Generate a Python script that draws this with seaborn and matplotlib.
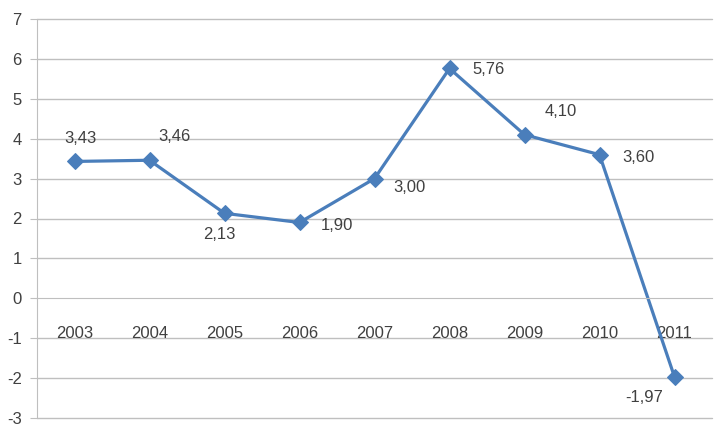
import matplotlib
matplotlib.use("Agg")
import matplotlib.pyplot as plt
import seaborn as sns
import pandas as pd

# values
years = ["2003", "2004", "2005", "2006", "2007", "2008", "2009", "2010", "2011"]
values = [3.43, 3.46, 2.13, 1.90, 3.00, 5.76, 4.10, 3.60, -1.97]
labels = ["3,43", "3,46", "2,13", "1,90", "3,00", "5,76", "4,10", "3,60", "-1,97"]

# label offsets in pixels (dx, dy) relative to each point
offsets = [(6, 23), (25, 24), (-5, -21), (37, -3), (35, -9),
           (39, -1), (36, 23), (39, -3), (-30, -21)]

sns.set_style("white")
plt.rcParams['font.family'] = ['Liberation Sans', 'DejaVu Sans']
plt.rcParams['axes.unicode_minus'] = False

text_col = "#404040"
grid_col = "#BFBFBF"
line_col = "#4A7EBB"

df = pd.DataFrame({"year": years, "value": values})

fig = plt.figure(figsize=(7.21, 4.28), dpi=100)
ax = fig.add_axes([37 / 721, 1 - 418 / 428, (712 - 37) / 721, (418 - 19) / 428])

sns.lineplot(data=df, x="year", y="value", ax=ax, color=line_col, linewidth=2.3,
             marker="D", markersize=8.5, markeredgecolor=line_col, sort=False)

ax.set_xlim(-0.5, 8.5)
ax.set_ylim(-3, 7)
ax.set_yticks(range(-3, 8))
ax.set_xlabel("")
ax.set_ylabel("")

# horizontal gridlines, drawn explicitly so the edge lines are kept
for yv in range(-3, 8):
    if yv != 0:
        ax.axhline(yv, color=grid_col, linewidth=1, zorder=0, clip_on=False)

# category axis crosses at zero
ax.spines['bottom'].set_position(('data', 0))
ax.spines['bottom'].set_color(grid_col)
ax.spines['left'].set_color(grid_col)
ax.spines['top'].set_visible(False)
ax.spines['right'].set_visible(False)

ax.set_xticks(range(len(years)))
ax.set_xticklabels(years)
ax.set_xticks([i - 0.5 for i in range(len(years) + 1)], minor=True)
ax.tick_params(axis='x', which='major', length=0, pad=20, labelsize=12, labelcolor=text_col)
ax.tick_params(axis='x', which='minor', length=5, direction='out', color=grid_col, width=1)
ax.tick_params(axis='y', length=5, direction='out', color=grid_col, labelsize=12,
               labelcolor=text_col, pad=6, left=True)

for i, (lab, (dx, dy)) in enumerate(zip(labels, offsets)):
    ax.annotate(lab, (i, values[i]), xytext=(dx * 0.72, dy * 0.72),
                textcoords="offset points", ha="center", va="center",
                fontsize=12, color=text_col)

fig.savefig("out.png", dpi=100)
